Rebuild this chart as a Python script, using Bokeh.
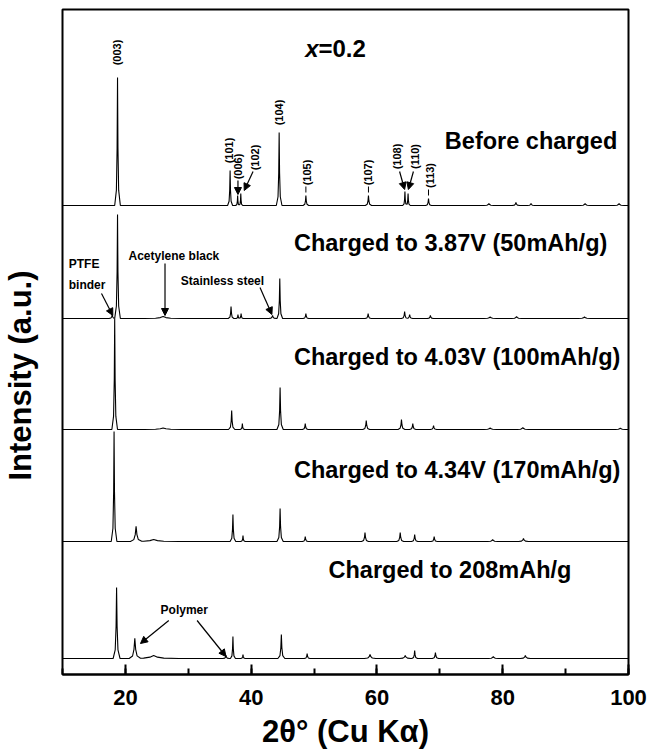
import numpy as np
from bokeh.plotting import figure
from bokeh.layouts import row
from bokeh.models import (Range1d, Label, Arrow, NormalHead, SingleIntervalTicker,
                          FixedTicker)
from bokeh.core.properties import value
from bokeh.embed import file_html
from bokeh.resources import INLINE

FONT = "Liberation Sans"

# ---------------- data (2theta in degrees, intensity in arbitrary units) -------------
before_pos = [18.75, 36.65, 37.85, 38.35, 44.45, 48.7, 58.65, 64.45, 64.95, 68.2, 77.8, 82.1, 84.5, 93.1, 98.5]
before_int = [128, 35, 10, 12, 73, 10, 10, 14, 12, 7, 2, 3, 2, 2, 2]
before_fw = [0.45, 0.4, 0.3, 0.3, 0.45, 0.45, 0.5, 0.35, 0.35, 0.45, 0.8, 0.6, 0.6, 0.8, 0.8]

c387_pos = [17.9, 18.75, 26.0, 36.8, 37.9, 38.4, 43.4, 44.55, 48.7, 58.6, 64.4, 65.2, 68.5, 78.0, 82.2, 93.0]
c387_int = [4, 104, 2, 12, 4, 5, 3, 40, 5, 5, 7, 4, 3, 1.5, 2, 1.5]
c387_fw = [0.5, 0.45, 3.0, 0.45, 0.3, 0.35, 0.6, 0.45, 0.45, 0.5, 0.5, 0.5, 0.5, 1.0, 0.8, 1.0]

c403_pos = [18.3, 26.0, 36.9, 38.6, 44.6, 48.6, 58.3, 63.9, 65.7, 69.0, 78.0, 83.2, 98.7]
c403_int = [111, 1.5, 19, 6, 42, 6, 9, 10, 6, 4, 1.5, 2, 1.5]
c403_fw = [0.45, 3.0, 0.5, 0.35, 0.5, 0.45, 0.55, 0.55, 0.5, 0.5, 1.0, 0.9, 0.8]

c434_pos = [18.2, 21.7, 24.5, 37.1, 38.7, 44.6, 48.6, 58.1, 63.7, 66.0, 69.1, 78.4, 83.3]
c434_int = [110, 15, 2, 27, 6, 33, 5, 9, 9, 7, 5, 2, 3]
c434_fw = [0.45, 0.9, 4.0, 0.45, 0.35, 0.5, 0.45, 0.55, 0.55, 0.5, 0.5, 0.8, 0.8]

c208_pos = [18.6, 21.5, 24.5, 36.0, 37.1, 38.7, 44.8, 48.9, 58.9, 64.5, 66.0, 69.3, 78.5, 83.6]
c208_int = [71, 20, 3, 3, 22, 4, 24, 5, 4, 3, 8, 6, 2, 3]
c208_fw = [0.55, 0.9, 4.0, 0.5, 0.4, 0.35, 0.55, 0.45, 0.9, 0.9, 0.45, 0.5, 0.8, 0.8]

# vertical stacking offset of each pattern
offsets = [469, 356, 245, 133, 16]

traces = [(before_pos, before_int, before_fw),
          (c387_pos, c387_int, c387_fw),
          (c403_pos, c403_int, c403_fw),
          (c434_pos, c434_int, c434_fw),
          (c208_pos, c208_int, c208_fw)]


def profile(pos, hgt, wid):
    rel_x = np.array([-1, -0.4, -0.15, 0, 0.15, 0.4, 1])
    rel_y = np.array([0, 0.12, 0.45, 1, 0.45, 0.12, 0])
    xs = [10.0, 100.0]
    for pp, w in zip(pos, wid):
        xs.extend(pp + rel_x * w)
    xs = np.unique(np.clip(np.array(xs), 10, 100))
    ys = np.zeros_like(xs)
    for pp, h, w in zip(pos, hgt, wid):
        ys += h * np.interp(xs, pp + rel_x * w, rel_y, left=0, right=0)
    return xs, ys


# narrow strip holding the y-axis title
lab = figure(width=40, height=754, output_backend="svg", toolbar_location=None,
             x_range=Range1d(0, 40), y_range=Range1d(0, 754), min_border=0)
lab.axis.visible = False
lab.grid.visible = False
lab.outline_line_color = None
lab.text(x=[19.5], y=[339], text=["Intensity (a.u.)"], angle=np.pi / 2,
         text_align="center", text_baseline="middle", text_font=value(FONT),
         text_font_size="31px", text_font_style="bold", text_color="black")

p = figure(width=608, height=754, output_backend="svg", toolbar_location=None,
           x_range=Range1d(10, 100), y_range=Range1d(0, 665),
           min_border_left=22, min_border_right=20, min_border_top=9,
           min_border_bottom=80)
p.grid.visible = False
p.outline_line_color = "black"
p.outline_line_width = 2

xa = p.xaxis[0]
xa.ticker = SingleIntervalTicker(interval=20, num_minor_ticks=2)
xa.major_tick_in = 10
xa.major_tick_out = 0
xa.minor_tick_in = 6
xa.minor_tick_out = 0
xa.major_tick_line_width = 2
xa.minor_tick_line_width = 2
xa.axis_line_width = 2
xa.major_label_text_font = FONT
xa.major_label_text_font_size = "22px"
xa.major_label_text_font_style = "bold"
xa.major_label_text_color = "black"
xa.major_label_standoff = 15
xa.axis_label = "2θ° (Cu Kα)"
xa.axis_label_text_font = FONT
xa.axis_label_text_font_size = "31px"
xa.axis_label_text_font_style = "bold"
xa.axis_label_text_color = "black"
xa.axis_label_standoff = 6

ya = p.yaxis[0]
ya.ticker = FixedTicker(ticks=[])
ya.major_tick_in = 0
ya.major_tick_out = 0
ya.minor_tick_in = 0
ya.minor_tick_out = 0
ya.axis_line_color = None
ya.major_label_standoff = 0

for (pos, hgt, wid), off in zip(traces, offsets):
    xs, ys = profile(pos, hgt, wid)
    p.line(xs, ys + off, line_color="black", line_width=1.1)


def text(x, y, s, size, align="left", angle=0.0, style="bold"):
    p.add_layout(Label(x=x, y=y, text=s, text_font=FONT, text_font_size=size,
                       text_font_style=style, text_align=align,
                       text_baseline="middle", angle=angle, text_color="black"))


def arrow(x0, y0, x1, y1):
    p.add_layout(Arrow(x_start=x0, y_start=y0, x_end=x1, y_end=y1,
                       line_width=1.2, line_color="black",
                       end=NormalHead(size=7, fill_color="black", line_color="black")))


R = np.pi / 2

# title
text(48.6, 626, "x", "24px", style="bold italic")
text(50.7, 626, "=0.2", "24px")

# pattern labels
text(70.8, 534, "Before charged", "23.5px")
text(46.8, 432, "Charged to 3.87V (50mAh/g)", "23.5px")
text(46.8, 318, "Charged to 4.03V (100mAh/g)", "23.5px")
text(46.8, 205, "Charged to 4.34V (170mAh/g)", "23.5px")
text(52.3, 105, "Charged to 208mAh/g", "23.5px")

# hkl labels
text(18.6, 622, "(003)", "11px", align="center", angle=R)
text(36.5, 524, "(101)", "11px", align="center", angle=R)
text(37.9, 508, "(006)", "11px", align="center", angle=R)
text(40.6, 517, "(102)", "11px", align="center", angle=R)
text(44.4, 562, "(104)", "11px", align="center", angle=R)
text(48.8, 502, "(105)", "11px", align="center", angle=R)
text(58.6, 502, "(107)", "11px", align="center", angle=R)
text(63.2, 518, "(108)", "11px", align="center", angle=R)
text(66.0, 518, "(110)", "11px", align="center", angle=R)
text(68.4, 499, "(113)", "11px", align="center", angle=R)

arrow(37.9, 494, 37.9, 480)
arrow(40.3, 503, 38.9, 484)
arrow(63.6, 503, 64.4, 485)
arrow(65.8, 503, 65.0, 485)
p.segment(x0=[48.7, 58.65, 68.2], y0=[488, 488, 485], x1=[48.7, 58.65, 68.2],
          y1=[482, 482, 479], line_color="black", line_width=1)

# component labels
text(11.0, 411, "PTFE", "12px")
text(11.0, 390, "binder", "12px")
arrow(16.2, 381, 18.0, 359)
text(20.5, 419, "Acetylene black", "12px")
arrow(26.3, 411, 26.3, 359)
text(28.8, 394, "Stainless steel", "12px")
arrow(41.4, 387, 43.3, 360)
text(25.6, 65, "Polymer", "12px")
arrow(26.9, 54, 22.4, 31)
arrow(31.4, 54, 36.0, 18)

layout = row(lab, p)
open("out.html", "w").write(file_html(layout, INLINE))
